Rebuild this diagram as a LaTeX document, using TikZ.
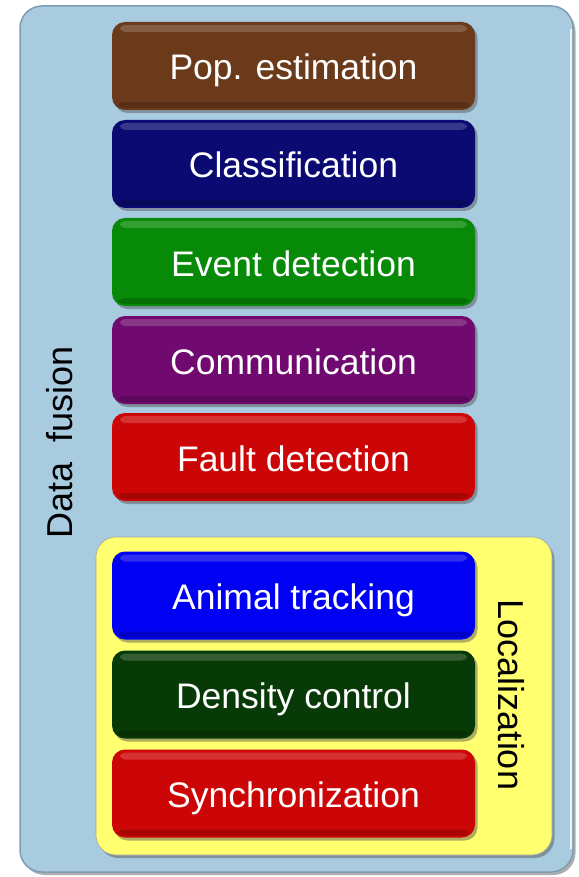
\documentclass[tikz,border=0pt]{standalone}
\usepackage{fontspec}
\setmainfont{Liberation Sans}
\usetikzlibrary{shadows}

\definecolor{panelblue}{HTML}{A8CBE0}
\definecolor{panelrim}{HTML}{7E9DB3}
\definecolor{locyellow}{HTML}{FFFF70}
\definecolor{cbrown}{HTML}{6B3A1B}
\definecolor{cnavy}{HTML}{0A0A72}
\definecolor{cgreen}{HTML}{078A07}
\definecolor{cpurple}{HTML}{700A70}
\definecolor{cred}{HTML}{CC0606}
\definecolor{cblue}{HTML}{0000F2}
\definecolor{cdgreen}{HTML}{083A08}

\tikzset{
  x=1pt, y=1pt,
  soft shadow/.style={drop shadow={shadow xshift=2.5pt, shadow yshift=-3pt, opacity=0.45, fill=black!70}},
  tile/.style={
    rounded corners=13pt, minimum width=363pt, minimum height=88pt,
    inner sep=0pt, fill=#1, text=white, soft shadow,
    font=\fontsize{35.5}{40}\selectfont, text height=28pt, text depth=0pt,
    path picture={
      % glossy rim: light band at top, darker band at bottom
      \fill[white, opacity=0.18, rounded corners=5pt]
        ([xshift=8pt, yshift=-3pt]path picture bounding box.north west)
        rectangle ([xshift=-8pt, yshift=-10pt]path picture bounding box.north east);
      \fill[black, opacity=0.18, rounded corners=5pt]
        ([xshift=6pt, yshift=2pt]path picture bounding box.south west)
        rectangle ([xshift=-6pt, yshift=8pt]path picture bounding box.south east);
    }
  },
  sidelabel/.style={font=\fontsize{36}{42}\selectfont, text=black, inner sep=0pt}
}

\begin{document}
\begin{tikzpicture}
\useasboundingbox (0,0) rectangle (578,-877);

% outer data-fusion panel
\node[draw=panelrim, line width=1.5pt, fill=panelblue, rounded corners=22pt,
      minimum width=553pt, minimum height=866pt, inner sep=0pt, soft shadow]
      (panel) at (296.5,-439) {};
\draw[white, opacity=0.8, line width=2pt]
  ([xshift=-3pt, yshift=-24pt]panel.north east) -- ([xshift=-3pt, yshift=24pt]panel.south east);

% localization group
\node[fill=locyellow, draw=black!35, line width=0.6pt, rounded corners=20pt,
      minimum width=456pt, minimum height=318pt, inner sep=0pt, soft shadow]
      (loc) at (324,-696) {};

% application tiles
\node[tile=cbrown]   (pop)   at (293.5,-66)    {Pop. estimation};
\node[tile=cnavy]    (class) at (293.5,-164)   {Classification};
\node[tile=cgreen]   (event) at (293.5,-262)   {Event detection};
\node[tile=cpurple]  (comm)  at (293.5,-360)   {Communication};
\node[tile=cred]     (fault) at (293.5,-457)   {Fault detection};
\node[tile=cblue]    (track) at (293.5,-595.5) {Animal tracking};
\node[tile=cdgreen]  (dens)  at (293.5,-694.5) {Density control};
\node[tile=cred]     (sync)  at (293.5,-793.5) {Synchronization};

% side labels
\node[sidelabel, rotate=90]  (dflabel)  at (60,-442)  {Data\ \ fusion};
\node[sidelabel, rotate=-90] (loclabel) at (511,-695) {Localization};
\end{tikzpicture}
\end{document}
